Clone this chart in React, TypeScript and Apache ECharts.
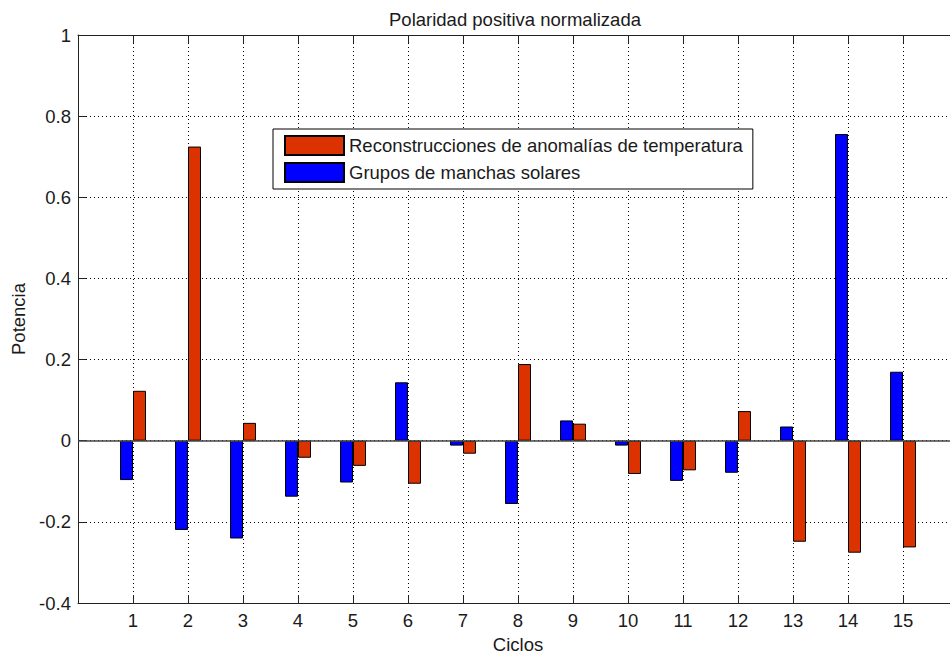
import React, { useEffect, useRef } from "react";
import * as echarts from "echarts";

const cycles = [1, 2, 3, 4, 5, 6, 7, 8, 9, 10, 11, 12, 13, 14, 15];
const tempAnomalies = [0.123, 0.725, 0.044, -0.042, -0.062, -0.106, -0.032, 0.189, 0.042, -0.082, -0.073, 0.073, -0.249, -0.276, -0.263];
const sunspotGroups = [-0.097, -0.22, -0.241, -0.138, -0.103, 0.144, -0.012, -0.156, 0.05, -0.012, -0.099, -0.079, 0.035, 0.756, 0.17];
const seriesNames = ["Reconstrucciones de anomalías de temperatura", "Grupos de manchas solares"];
const titleText = "Polaridad positiva normalizada";
const xName = "Ciclos";
const yName = "Potencia";

const FONT = "'Liberation Sans', Arial, sans-serif";
const FS = 18.5;
const TXT = "#1a1a1a";

export default function App() {
  const ref = useRef<HTMLDivElement>(null);
  useEffect(() => {
    if (!ref.current) return;
    const chart = echarts.init(ref.current, undefined, { renderer: "svg" });
    const dotted = { color: "#000", width: 1, type: [1, 3] as any };
    chart.setOption({
      animation: false,
      backgroundColor: "#fff",
      textStyle: { fontFamily: FONT },
      title: {
        text: titleText,
        left: 510,
        top: 5,
        textAlign: "center",
        textStyle: { fontFamily: FONT, fontSize: FS, fontWeight: "normal", color: TXT },
      },
      legend: {
        data: [seriesNames[0], seriesNames[1]],
        orient: "vertical",
        left: 273,
        top: 129,
        itemWidth: 59,
        itemHeight: 19,
        itemGap: 6,
        padding: [6, 10, 6, 11],
        backgroundColor: "#fff",
        borderColor: "#000",
        borderWidth: 1,
        borderRadius: 0,
        icon: "rect",
        textStyle: { fontFamily: FONT, fontSize: FS, color: TXT },
      },
      grid: { left: 78, top: 35, width: 880, height: 568, containLabel: false },
      xAxis: [
        {
          type: "value",
          min: 0,
          max: 16,
          interval: 1,
          name: xName,
          nameLocation: "middle",
          nameGap: 31,
          nameTextStyle: { fontFamily: FONT, fontSize: FS, color: TXT },
          axisLine: { show: true, onZero: false, lineStyle: { color: "#222", width: 1 } },
          axisTick: { show: true, inside: true, length: 8, lineStyle: { color: "#222" } },
          axisLabel: {
            margin: 8,
            fontFamily: FONT,
            fontSize: FS,
            color: TXT,
            formatter: (v: number) => (cycles.indexOf(v) >= 0 ? String(v) : ""),
          },
          splitLine: { show: true, lineStyle: dotted },
        },
        {
          type: "value",
          position: "top",
          min: 0,
          max: 16,
          interval: 1,
          axisLine: { show: true, onZero: false, lineStyle: { color: "#222", width: 1 } },
          axisTick: { show: true, inside: true, length: 8, lineStyle: { color: "#222" } },
          axisLabel: { show: false },
          splitLine: { show: false },
        },
      ],
      yAxis: {
        type: "value",
        min: -0.4,
        max: 1,
        interval: 0.2,
        name: yName,
        nameLocation: "middle",
        nameGap: 46,
        nameTextStyle: { fontFamily: FONT, fontSize: FS, color: TXT },
        axisLine: { show: true, lineStyle: { color: "#222", width: 1 } },
        axisTick: { show: true, inside: true, length: 8, lineStyle: { color: "#222" } },
        axisLabel: {
          margin: 7,
          fontFamily: FONT,
          fontSize: FS,
          color: TXT,
          formatter: (v: number) => String(Math.round(v * 10) / 10),
        },
        splitLine: { show: true, lineStyle: dotted },
      },
      series: [
        {
          name: seriesNames[1],
          type: "bar",
          xAxisIndex: 0,
          barWidth: 13,
          barGap: "0%",
          itemStyle: { color: "#0000ff", borderColor: "#000", borderWidth: 1 },
          data: cycles.map((c, i) => [c, sunspotGroups[i]]),
          markLine: {
            silent: true,
            symbol: "none",
            label: { show: false },
            lineStyle: { color: "#444", width: 1.5, type: "solid" },
            data: [{ yAxis: 0 }],
            z: 5,
          },
        },
        {
          name: seriesNames[0],
          type: "bar",
          xAxisIndex: 0,
          barWidth: 13,
          barGap: "0%",
          itemStyle: { color: "#dc3200", borderColor: "#000", borderWidth: 1 },
          data: cycles.map((c, i) => [c, tempAnomalies[i]]),
        },
      ],
    });
    return () => chart.dispose();
  }, []);
  return (
    <div
      style={{ position: "fixed", left: 0, top: 0, width: 950, height: 659, overflow: "hidden", background: "#fff" }}
    >
      <div ref={ref} style={{ position: "absolute", left: 0, top: 0, width: 970, height: 659 }} />
    </div>
  );
}
